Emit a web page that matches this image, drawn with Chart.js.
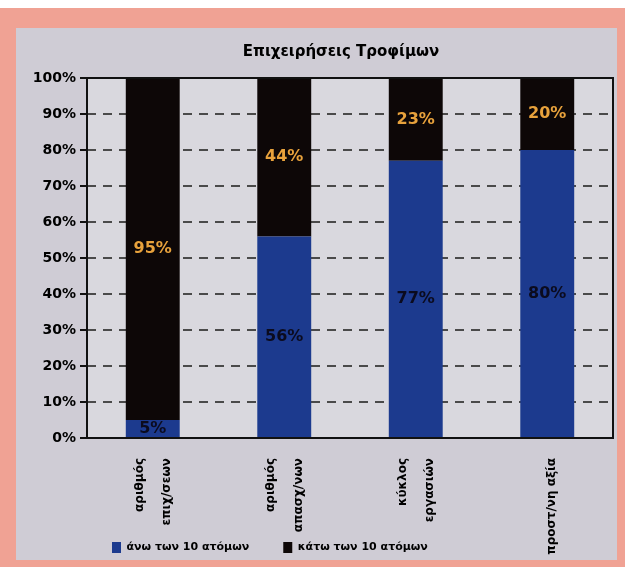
<!DOCTYPE html>
<html>
<head>
<meta charset="utf-8">
<script src="https://cdn.jsdelivr.net/npm/chart.js@4"></script>
<style>
  body { margin: 0; background: #fff; }
  #frame { position: absolute; left: 0; top: 8px; width: 625px; height: 559px; background: #f0a294; }
  #panel { position: absolute; left: 16px; top: 28px; width: 601px; height: 532px; background: #cfccd5; }
  #wrap { position: absolute; left: 0; top: 0; width: 625px; height: 567px; }
</style>
</head>
<body>
<div id="frame"></div>
<div id="panel"></div>
<div id="wrap"><canvas id="chart" width="625" height="567"></canvas></div>
<script>
// categories and values
const categories = [
  ['αριθμός', 'επιχ/σεων'],
  ['αριθμός', 'απασχ/νων'],
  ['κύκλος', 'εργασιών'],
  ['', 'προστ/νη αξία']   // blank first line keeps it in the same column as the others
];
const seriesNames = ['άνω των 10 ατόμων', 'κάτω των 10 ατόμων'];
const above10 = [5, 56, 77, 80];
const below10 = [95, 44, 23, 20];
const yTicks = [0, 10, 20, 30, 40, 50, 60, 70, 80, 90, 100];

const FONT = "'DejaVu Sans', sans-serif";

// plot background + frame round the chart area
const areaPlugin = {
  id: 'area',
  beforeDraw(chart) {
    const {ctx, chartArea: a} = chart;
    ctx.save();
    ctx.fillStyle = '#d9d8de';
    ctx.fillRect(a.left, a.top, a.right - a.left, a.bottom - a.top);
    ctx.restore();
  },
  afterDatasetsDraw(chart) {
    const {ctx, chartArea: a} = chart;
    ctx.save();
    ctx.strokeStyle = '#111';
    ctx.lineWidth = 2;
    ctx.strokeRect(a.left, a.top, a.right - a.left, a.bottom - a.top);
    ctx.restore();
  }
};

// value labels in the middle of each segment
const valuePlugin = {
  id: 'values',
  afterDatasetsDraw(chart) {
    const ctx = chart.ctx;
    ctx.save();
    ctx.font = 'bold 16px ' + FONT;
    ctx.textAlign = 'center';
    ctx.textBaseline = 'middle';
    chart.data.datasets.forEach((ds, i) => {
      chart.getDatasetMeta(i).data.forEach((bar, j) => {
        ctx.fillStyle = i === 0 ? '#0b0b1e' : '#e8a23c';
        ctx.fillText(ds.data[j] + '%', bar.x, (bar.y + bar.base) / 2);
      });
    });
    ctx.restore();
  }
};

// move the legend (and nudge the title) to where they sit in the picture
const legendPlace = {
  id: 'legendPlace',
  afterLayout(chart) {
    chart.legend.left = 78;
    chart.legend.top = 548 - 34 - 6;
    chart.titleBlock.left -= 18;
  }
};

new Chart(document.getElementById('chart'), {
  type: 'bar',
  data: {
    labels: categories,
    datasets: [{
      label: seriesNames[0],
      data: above10,
      backgroundColor: '#1c3a8e'
    }, {
      label: seriesNames[1],
      data: below10,
      backgroundColor: '#0d0707'
    }]
  },
  options: {
    responsive: false,
    animation: false,
    layout: { padding: { left: 24, right: 12, top: 43, bottom: 0 } },
    datasets: { bar: { categoryPercentage: 1, barPercentage: 0.41 } },
    plugins: {
      title: {
        display: true,
        text: 'Επιχειρήσεις Τροφίμων',
        fullSize: false,
        color: '#000',
        font: { family: FONT, size: 15, weight: 'bold' },
        padding: { top: 0, bottom: 17 }
      },
      legend: {
        position: 'bottom',
        align: 'start',
        maxHeight: 2,
        labels: {
          color: '#000',
          font: { family: FONT, size: 11, weight: 'bold' },
          boxWidth: 9,
          boxHeight: 11,
          padding: 34
        }
      },
      tooltip: { enabled: false }
    },
    scales: {
      x: {
        stacked: true,
        afterFit: s => { s.height = 127; },
        grid: { display: false },
        border: { display: false },
        ticks: {
          color: '#000',
          font: ctx => ({ family: FONT, size: 12, weight: 'bold', lineHeight: ctx.index === 3 ? 1.5 : 2.3 }),
          maxRotation: 90,
          minRotation: 90,
          labelOffset: -13,
          padding: 12
        }
      },
      y: {
        stacked: true,
        min: 0,
        max: 100,
        afterFit: s => { s.width = 63; },
        afterBuildTicks: s => { s.ticks = yTicks.map(v => ({ value: v })); },
        grid: { color: '#4a4a4a', lineWidth: 2, tickLength: 7, tickColor: '#111', tickBorderDash: [] },
        border: { display: false, dash: [9, 7] },
        ticks: {
          color: '#000',
          font: { family: FONT, size: 14, weight: 'bold' },
          padding: 4,
          callback: v => v + '%'
        }
      }
    }
  },
  plugins: [areaPlugin, valuePlugin, legendPlace]
});
</script>
</body>
</html>
